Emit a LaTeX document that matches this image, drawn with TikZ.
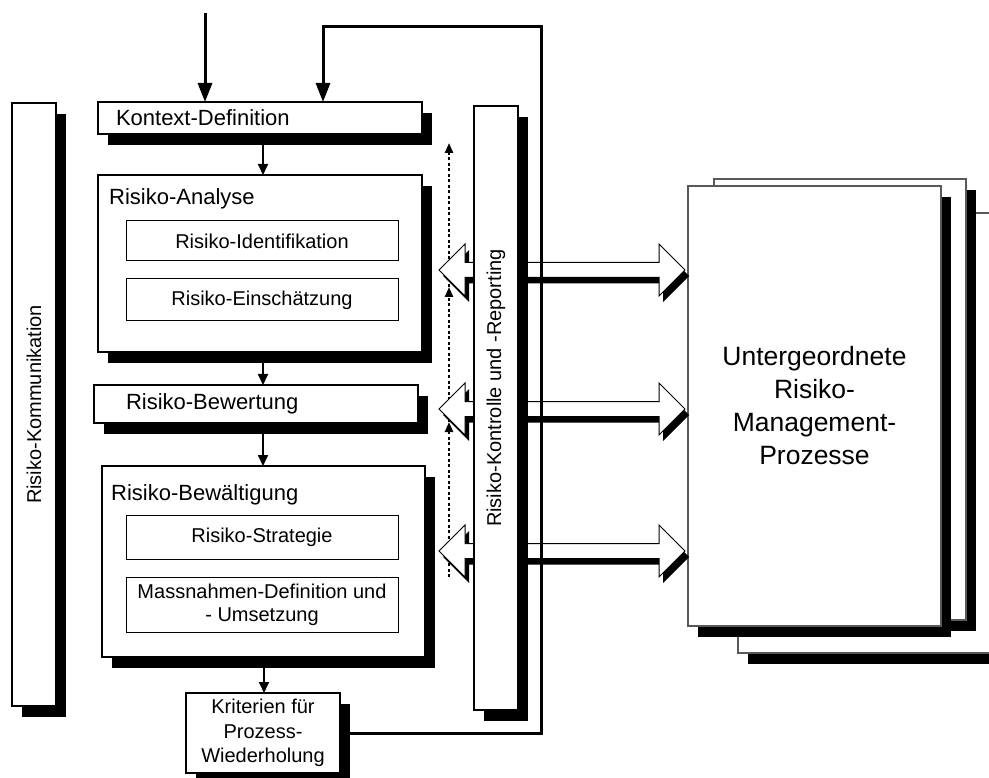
\documentclass[tikz,border=0pt]{standalone}
\usepackage{fontspec}
\setmainfont{Liberation Sans}
\usetikzlibrary{arrows.meta,positioning,shadows}

\begin{document}
\begin{tikzpicture}[
  x=1pt, y=-1pt,
  box/.style={rectangle, draw, fill=white, line width=2pt, outer sep=0pt,
              drop shadow={shadow xshift=10pt, shadow yshift=-11pt, fill=black, opacity=1}},
  inbox/.style={rectangle, draw, line width=1pt, outer sep=0pt, minimum width=272pt,
                align=center, font=\fontsize{20}{23}\selectfont},
  page/.style={rectangle, draw=black!65, line width=1.2pt, fill=white, outer sep=0pt,
               drop shadow={shadow xshift=10pt, shadow yshift=-11pt, fill=black, opacity=1}},
  txt/.style={font=\fontsize{20}{24.5}\selectfont, align=center},
  ttl/.style={font=\fontsize{22}{26}\selectfont},
  big/.style={font=\fontsize{26.5}{33}\selectfont, align=center},
  flow/.style={-{Triangle[length=11pt,width=10pt]}, line width=1.8pt},
  feed/.style={-{Triangle[length=19pt,width=14pt]}, line width=3pt},
  dots/.style={-{Triangle[length=10pt,width=8pt]}, line width=2.3pt, dash pattern=on 3pt off 2.5pt},
  blockarr/.pic={
    \fill[black, shift={(4,6)}] (-123,0) -- (-97,-26) -- (-97,-7.5) -- (97,-7.5) -- (97,-26)
      -- (123,0) -- (97,26) -- (97,7.5) -- (-97,7.5) -- (-97,26) -- cycle;
    \draw[fill=white, line width=1pt] (-123,0) -- (-97,-26) -- (-97,-7.5) -- (97,-7.5) -- (97,-26)
      -- (123,0) -- (97,26) -- (97,7.5) -- (-97,7.5) -- (-97,26) -- cycle;
  },
]
  \useasboundingbox (0,0) rectangle (989,778);

  \node[page, minimum width=262pt, minimum height=440pt] (page3) at (869,433) {};
  \node[page, minimum width=252pt, minimum height=441pt] (page2) at (840,399.5) {};
  \node[page, minimum width=253pt, minimum height=440pt] (page1) at (814.5,406) {};
  \node[big] (page1-t) at (page1) {Untergeordnete\\Risiko-\\Management-\\Prozesse};

  \node[box, minimum width=44pt, minimum height=603pt] (komm) at (34,404.5) {};
  \node[txt, rotate=90] (komm-t) at (komm) {Risiko-Kommunikation};

  \node[box, ttl, minimum width=324pt, minimum height=32pt, inner xsep=18pt,
        text width=288pt, align=left] (kontext) at (260,118) {Kontext-Definition};
  \node[box, minimum width=324pt, minimum height=177pt, below=41pt of kontext] (analyse) {};
  \node[ttl, anchor=base west, inner sep=0pt] (analyse-t) at (109,205) {Risiko-Analyse};
  \node[inbox, minimum height=40pt] (ident) at (262,241) {Risiko-Identifikation};
  \node[inbox, minimum height=42pt, below=18pt of ident] (einsch) {Risiko-Einschätzung};

  \node[box, ttl, minimum width=324pt, minimum height=38pt, inner xsep=32pt,
        text width=260pt, align=left, below=33pt of analyse, xshift=-4pt] (bewertung) {Risiko-Bewertung};

  \node[box, minimum width=323pt, minimum height=191pt, below=43pt of bewertung, xshift=7.5pt] (bewaelt) {};
  \node[ttl, anchor=base west, inner sep=0pt] (bewaelt-t) at (111,500) {Risiko-Bewältigung};
  \node[inbox, minimum height=44pt] (strategie) at (262,537) {Risiko-Strategie};
  \node[inbox, minimum height=55pt, below=18pt of strategie] (massn) {Massnahmen-Definition und\\- Umsetzung};

  \node[box, txt, minimum width=154pt, minimum height=80pt, inner sep=0pt,
        below=36pt of bewaelt, xshift=-0.5pt] (kriterien) {Kriterien für\\Prozess-\\Wiederholung};

  \draw[flow] (kontext.south -| 263,0) -- (analyse.north -| 263,0);
  \draw[flow] (analyse.south -| 263,0) -- (bewertung.north -| 263,0);
  \draw[flow] (bewertung.south -| 263,0) -- (bewaelt.north -| 263,0);
  \draw[flow] (bewaelt.south -| 264,0) -- (kriterien.north -| 264,0);

  \coordinate (d0) at (449,577);
  \coordinate (d1) at (449,422);
  \coordinate (d2) at (449,287);
  \coordinate (d3) at (449,143);
  \draw[dots] (d0) -- (d1);
  \draw[dots] (d1) -- (d2);
  \draw[dots] (d2) -- (d3);

  \foreach \yy in {270,409,551}
    \pic at (562,\yy) {blockarr};

  \node[box, minimum width=44pt, minimum height=604pt] (kontrolle) at (496,408) {};
  \node[txt, rotate=90] (kontrolle-t) at (496,388) {Risiko-Kontrolle und -Reporting};

  \coordinate (input) at (205,13);
  \coordinate (fb) at (541,27);
  \coordinate (fbin) at (323,27);
  \draw[feed] (input) -- (input |- kontext.north);
  \draw[feed] (kriterien.east) -| (fb) -- (fbin) -- (fbin |- kontext.north);
\end{tikzpicture}
\end{document}
